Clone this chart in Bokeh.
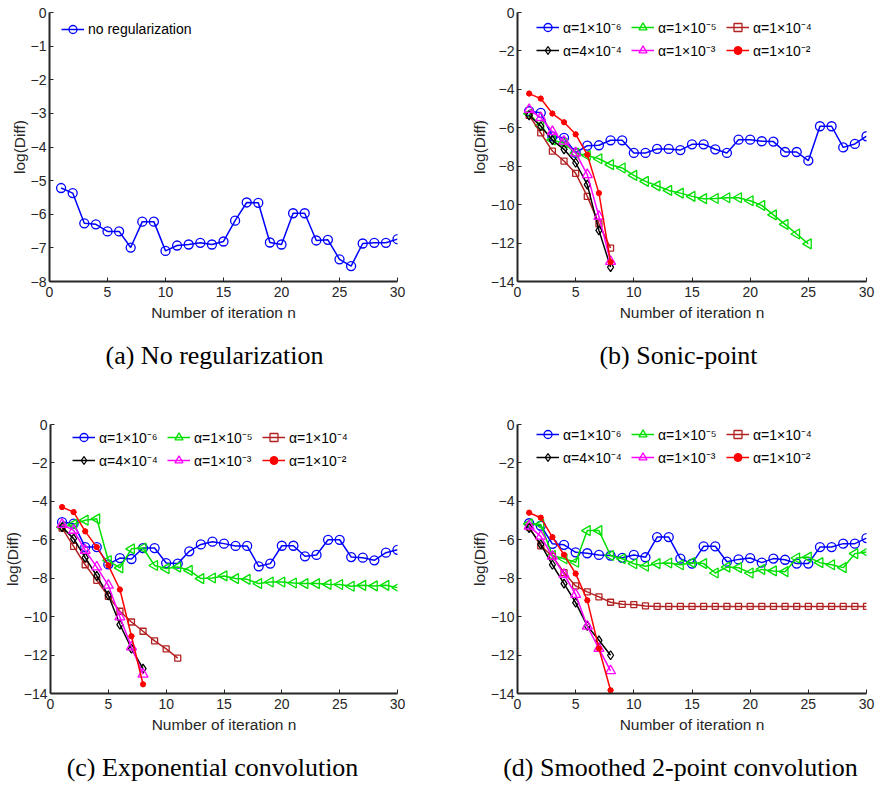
from bokeh.plotting import figure
from bokeh.models import Range1d, Legend, LegendItem, FixedTicker
from bokeh.core.properties import value
from bokeh.layouts import column, row
from bokeh.embed import file_html
from bokeh.resources import INLINE

# ---------------------------------------------------------------- data
# log(Diff) per iteration n for each regularization scheme
iters = list(range(1, 31))

none_reg = [-5.22, -5.37, -6.27, -6.30, -6.51, -6.51, -6.99, -6.22, -6.22, -7.09,
            -6.93, -6.90, -6.85, -6.90, -6.81, -6.19, -5.65, -5.66, -6.84, -6.90,
            -5.97, -5.97, -6.78, -6.76, -7.34, -7.54, -6.87, -6.85, -6.85, -6.74]

# (b) sonic-point
sonic_1e6 = [-5.14, -5.22, -6.45, -6.52, -7.30, -6.93, -6.91, -6.65, -6.65, -7.31,
             -7.31, -7.10, -7.10, -7.16, -6.86, -6.86, -7.12, -7.31, -6.62, -6.62,
             -6.70, -6.72, -7.26, -7.26, -7.71, -5.92, -5.92, -7.02, -6.84, -6.44]
sonic_1e5 = [-5.27, -5.90, -6.63, -6.80, -7.32, -7.44, -7.61, -7.92, -8.09, -8.48,
             -8.79, -9.02, -9.26, -9.40, -9.57, -9.69, -9.68, -9.64, -9.64, -9.80,
             -10.04, -10.53, -11.03, -11.53, -12.04]
sonic_1e4 = [-5.35, -6.27, -7.21, -7.73, -8.37, -9.57, -11.00, -12.26]
sonic_4e4 = [-5.35, -5.92, -6.64, -7.12, -7.82, -8.96, -11.34, -13.25]
sonic_1e3 = [-5.05, -5.47, -6.20, -6.70, -7.31, -8.44, -10.61, -12.96]
sonic_1e2 = [-4.22, -4.48, -5.26, -5.71, -6.34, -7.40, -9.40, -12.99]

# (c) exponential convolution
expo_1e6 = [-5.08, -5.16, -6.38, -6.38, -7.28, -6.95, -7.00, -6.43, -6.43, -7.21,
            -7.24, -6.60, -6.24, -6.10, -6.20, -6.32, -6.32, -7.38, -7.24, -6.31,
            -6.31, -6.86, -6.79, -6.00, -6.00, -6.90, -6.93, -7.07, -6.67, -6.52]
expo_1e5 = [-5.35, -5.20, -4.98, -4.91, -7.08, -7.46, -6.47, -6.43, -7.34, -7.50,
            -7.42, -7.59, -8.02, -7.99, -7.88, -8.02, -8.06, -8.28, -8.20, -8.20,
            -8.25, -8.28, -8.28, -8.32, -8.33, -8.42, -8.37, -8.40, -8.37, -8.49]
expo_1e4 = [-5.39, -6.34, -7.30, -8.11, -8.94, -9.72, -10.28, -10.76, -11.26, -11.68, -12.16]
expo_4e4 = [-5.34, -5.94, -6.93, -7.88, -8.89, -10.41, -11.66, -12.70]
expo_1e3 = [-5.20, -5.51, -6.55, -7.42, -8.37, -10.02, -11.58, -13.00]
expo_1e2 = [-4.30, -4.56, -5.56, -6.38, -7.33, -8.59, -11.02, -13.52]

# (d) smoothed 2-point convolution
smooth_1e6 = [-5.14, -5.27, -6.21, -6.26, -6.65, -6.70, -6.79, -6.82, -6.94, -6.79,
              -6.91, -5.86, -5.86, -6.98, -7.24, -6.34, -6.34, -7.14, -7.02, -6.95,
              -7.19, -6.98, -7.04, -7.24, -7.24, -6.38, -6.38, -6.20, -6.20, -5.91]
smooth_1e5 = [-5.17, -5.20, -6.82, -6.99, -7.17, -5.52, -5.52, -6.82, -6.99, -7.25,
              -7.38, -7.24, -7.21, -7.30, -7.19, -7.24, -7.73, -7.42, -7.45, -7.73,
              -7.54, -7.62, -7.66, -6.95, -6.90, -7.19, -7.30, -7.45, -6.72, -6.64]
smooth_1e4 = [-5.34, -6.32, -6.86, -7.71, -8.40, -8.71, -8.97, -9.25, -9.36, -9.37,
              -9.44, -9.47, -9.47, -9.47, -9.47, -9.47, -9.47, -9.47, -9.47, -9.47,
              -9.47, -9.47, -9.47, -9.47, -9.47, -9.47, -9.47, -9.47, -9.47, -9.47]
smooth_4e4 = [-5.39, -6.24, -7.30, -8.28, -9.27, -10.48, -11.23, -12.01]
smooth_1e3 = [-5.29, -5.82, -6.86, -7.80, -8.85, -10.50, -11.66, -12.82]
smooth_1e2 = [-4.59, -4.85, -5.86, -6.78, -7.76, -9.15, -11.66, -13.83]

alpha_labels = ["α=1×10⁻⁶", "α=1×10⁻⁵", "α=1×10⁻⁴",
                "α=4×10⁻⁴", "α=1×10⁻³", "α=1×10⁻²"]
captions = ["(a) No regularization", "(b) Sonic-point",
            "(c) Exponential convolution", "(d) Smoothed 2-point convolution"]
x_ticks = [0, 5, 10, 15, 20, 25, 30]
y_ticks_a = [0, -1, -2, -3, -4, -5, -6, -7, -8]
y_ticks_b = [0, -2, -4, -6, -8, -10, -12, -14]

# ---------------------------------------------------------------- styling
TEXT = "#262626"
SANS = "Liberation Sans"
SERIF = "Liberation Serif"
W = 438

# colour, marker, size, filled
STYLES = [
    ("#0000FF", "circle", 9, False),
    ("#00E000", "triangle", 10, False),   # rotated to point left
    ("#B22222", "square", 6, False),
    ("#000000", "diamond", 9, False),
    ("#FF00FF", "triangle", 10, False),
    ("#FF0000", "asterisk", 6, True),
]
# legend is filled column by column; this order reads as two rows of three
LEGEND_ORDER = [0, 3, 1, 4, 2, 5]


def make_axes(ymin, yticks, height, left, right, top, bottom):
    p = figure(width=W, height=height, output_backend="svg", toolbar_location=None,
               x_range=Range1d(0, 30), y_range=Range1d(ymin, 0),
               min_border_left=left, min_border_right=right,
               min_border_top=top, min_border_bottom=bottom)
    p.outline_line_color = None
    p.grid.visible = False
    for ax in (p.xaxis[0], p.yaxis[0]):
        ax.axis_line_color = TEXT
        ax.axis_line_width = 2
        ax.major_tick_in = 4
        ax.major_tick_out = 0
        ax.major_tick_line_color = TEXT
        ax.major_tick_line_width = 1
        ax.minor_tick_line_color = None
        ax.major_label_text_font = SANS
        ax.major_label_text_font_size = "14px"
        ax.major_label_text_color = TEXT
        ax.axis_label_text_font = SANS
        ax.axis_label_text_font_size = "15.5px"
        ax.axis_label_text_font_style = "normal"
        ax.axis_label_text_color = TEXT
        ax.major_label_standoff = 5
        ax.axis_label_standoff = 4
    p.yaxis.major_label_standoff = 3
    p.yaxis.axis_label_standoff = 0
    p.xaxis.ticker = FixedTicker(ticks=x_ticks)
    p.yaxis.ticker = FixedTicker(ticks=yticks)
    p.xaxis.axis_label = "Number of iteration n"
    p.yaxis.axis_label = "log(Diff)"
    return p


def add_series(p, ys, style):
    color, marker, size, filled = style
    xs = iters[:len(ys)]
    ln = p.line(xs, ys, line_color=color, line_width=1.5)
    kw = dict(marker=marker, size=size, line_color=color, line_width=1.3,
              fill_color=color if filled else None)
    if style is STYLES[1]:
        kw["angle"] = 1.5708
    sc = p.scatter(xs, ys, **kw)
    rs = [ln, sc]
    if filled:
        rs.append(p.scatter(xs, ys, marker="circle", size=5, line_color=color,
                            fill_color=color))
    return rs


def add_legend(p, items, vx, vy, ncols, label_width=20):
    lg = Legend(items=items, location=(vx, vy), ncols=ncols,
                background_fill_alpha=0, border_line_color=None,
                padding=0, margin=0, spacing=3, glyph_width=23, glyph_height=20,
                label_height=20, label_width=label_width, label_standoff=4,
                label_text_font=SANS, label_text_font_size="14px",
                label_text_color="black")
    p.add_layout(lg, "center")


def alpha_panel(p, series, vx, vy):
    items = []
    for ys, st, lab in zip(series, STYLES, alpha_labels):
        items.append(LegendItem(label=lab, renderers=add_series(p, ys, st)))
    add_legend(p, [items[i] for i in LEGEND_ORDER], vx, vy, 3, label_width=65)


def caption_strip(texts, height, centers, cy):
    # full-width blank strip holding the two captions of a row (strip pixels)
    c = figure(width=2 * W, height=height, output_backend="svg", toolbar_location=None,
               x_range=Range1d(0, 2 * W), y_range=Range1d(0, height),
               x_axis_location=None, y_axis_location=None, min_border=0)
    c.outline_line_color = None
    c.grid.visible = False
    c.text(x=centers, y=[cy] * len(texts), text=texts,
           text_align="center", text_baseline="middle",
           text_font=value(SERIF), text_font_size="26px", text_color="black")
    return c


TOP_H, CAP1_H = 340, 53
BOT_H, CAP2_H = 352, 41

# (a) no regularization
pa = make_axes(-8, y_ticks_a, TOP_H, 49, 41, 12, TOP_H - 281)
ra = add_series(pa, none_reg, STYLES[0])
add_legend(pa, [LegendItem(label="no regularization", renderers=ra)], 12, 242, 1)

# (b) sonic-point
pb = make_axes(-14, y_ticks_b, TOP_H, 79, 10, 12, TOP_H - 281)
alpha_panel(pb, [sonic_1e6, sonic_1e5, sonic_1e4, sonic_4e4, sonic_1e3, sonic_1e2], 19, 221)

# (c) exponential convolution
pc = make_axes(-14, y_ticks_b, BOT_H, 49, 41, 31, BOT_H - 300)
alpha_panel(pc, [expo_1e6, expo_1e5, expo_1e4, expo_4e4, expo_1e3, expo_1e2], 22, 223)

# (d) smoothed 2-point convolution
pd_ = make_axes(-14, y_ticks_b, BOT_H, 79, 10, 31, BOT_H - 300)
alpha_panel(pd_, [smooth_1e6, smooth_1e5, smooth_1e4, smooth_4e4, smooth_1e3, smooth_1e2], 19, 226)

cap_top = caption_strip(captions[:2], CAP1_H, [214, 678], CAP1_H - 15)
cap_bot = caption_strip(captions[2:], CAP2_H, [212, 680], CAP2_H - 22)

page = column(row(pa, pb), cap_top, row(pc, pd_), cap_bot)

open("out.html", "w").write(file_html(page, INLINE))
